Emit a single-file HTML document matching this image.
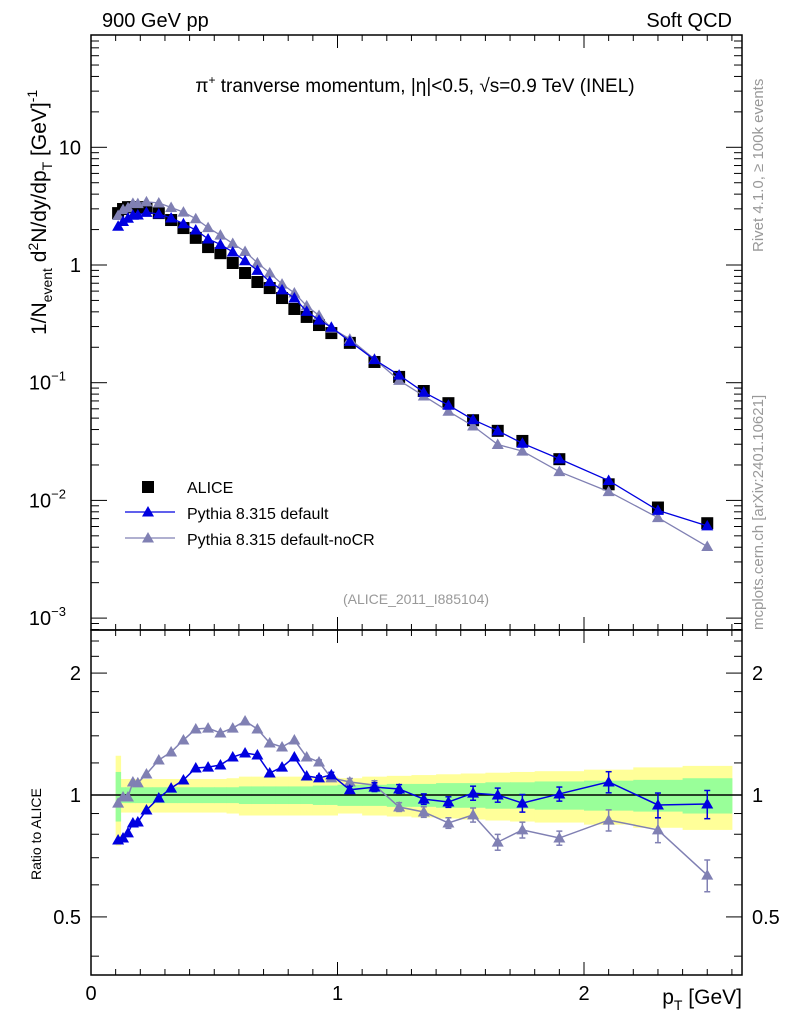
<!DOCTYPE html>
<html><head><meta charset="utf-8"><style>
html,body{margin:0;padding:0;background:#fff;}
svg{display:block;font-family:"Liberation Sans",sans-serif;}
</style></head><body>
<svg id="c" width="786" height="1024" viewBox="0 0 786 1024" xmlns="http://www.w3.org/2000/svg">
<text x="102" y="27" font-size="20">900 GeV pp</text>
<text x="732" y="27" font-size="20" text-anchor="end">Soft QCD</text>
<text x="415" y="92" font-size="19" text-anchor="middle">π<tspan font-size="12" dy="-8">+</tspan><tspan dy="8"> tranverse momentum, |η|&lt;0.5, √s=0.9 TeV (INEL)</tspan></text>
<text transform="translate(46,335) rotate(-90)" font-size="21">1/N<tspan font-size="14" dy="6">event</tspan><tspan dy="-6"> d</tspan><tspan font-size="14" dy="-8">2</tspan><tspan dy="8">N/dy/dp</tspan><tspan font-size="14" dy="6">T</tspan><tspan dy="-6"> [GeV]</tspan><tspan font-size="14" dy="-9">-1</tspan></text>
<text transform="translate(41,880) rotate(-90)" font-size="14">Ratio to ALICE</text>
<text transform="translate(763,252) rotate(-90)" font-size="15" fill="#999">Rivet 4.1.0, ≥ 100k events</text>
<text transform="translate(763,630) rotate(-90)" font-size="15" fill="#999">mcplots.cern.ch [arXiv:2401.10621]</text>
<text x="416" y="604" font-size="14" fill="#999" text-anchor="middle">(ALICE_2011_I885104)</text>
<text x="742" y="1004" font-size="21" text-anchor="end">p<tspan font-size="14" dy="6">T</tspan><tspan dy="-6"> [GeV]</tspan></text>
</svg>
<script>
const pT=[0.11,0.13,0.15,0.17,0.19,0.225,0.275,0.325,0.375,0.425,0.475,0.525,0.575,0.625,0.675,0.725,0.775,0.825,0.875,0.925,0.975,1.05,1.15,1.25,1.35,1.45,1.55,1.65,1.75,1.9,2.1,2.3,2.5];
const binLo=[0.1,0.12,0.14,0.16,0.18,0.2,0.25,0.3,0.35,0.4,0.45,0.5,0.55,0.6,0.65,0.7,0.75,0.8,0.85,0.9,0.95,1.0,1.1,1.2,1.3,1.4,1.5,1.6,1.7,1.8,2.0,2.2,2.4];
const binHi=[0.12,0.14,0.16,0.18,0.2,0.25,0.3,0.35,0.4,0.45,0.5,0.55,0.6,0.65,0.7,0.75,0.8,0.85,0.9,0.95,1.0,1.1,1.2,1.3,1.4,1.5,1.6,1.7,1.8,2.0,2.2,2.4,2.6];
const alice=[2.76,2.99,3.1,3.1,3.1,3.05,2.76,2.41,2.06,1.70,1.42,1.26,1.04,0.855,0.717,0.637,0.524,0.423,0.362,0.309,0.264,0.218,0.150,0.112,0.085,0.067,0.048,0.039,0.032,0.0224,0.0137,0.0087,0.0064];
const ratioDefault=[0.774,0.783,0.806,0.853,0.858,0.918,0.983,1.04,1.089,1.166,1.172,1.186,1.241,1.270,1.255,1.133,1.172,1.241,1.114,1.102,1.121,1.03,1.046,1.035,0.977,0.961,1.011,1.0,0.955,1.006,1.077,0.945,0.95];
const ratioNoCR=[0.955,0.989,0.989,1.077,1.071,1.127,1.220,1.277,1.367,1.455,1.463,1.423,1.463,1.523,1.455,1.344,1.314,1.367,1.241,1.206,1.102,1.077,1.058,0.934,0.908,0.853,0.893,0.765,0.820,0.783,0.867,0.820,0.634];
const errDefault=[0.005,0.005,0.005,0.005,0.005,0.005,0.005,0.005,0.005,0.005,0.005,0.005,0.006,0.006,0.006,0.006,0.008,0.01,0.01,0.012,0.015,0.02,0.025,0.025,0.03,0.03,0.04,0.04,0.05,0.04,0.06,0.07,0.08];
const errNoCR=[0.005,0.005,0.005,0.005,0.005,0.005,0.005,0.005,0.005,0.005,0.005,0.005,0.006,0.006,0.006,0.006,0.008,0.01,0.01,0.012,0.015,0.02,0.025,0.025,0.03,0.03,0.04,0.045,0.045,0.04,0.06,0.07,0.09];
const bandInner=[0.14,0.045,0.045,0.045,0.045,0.045,0.045,0.045,0.045,0.045,0.045,0.045,0.045,0.05,0.05,0.05,0.05,0.05,0.05,0.055,0.055,0.06,0.06,0.065,0.065,0.07,0.07,0.075,0.075,0.08,0.085,0.09,0.1];
const bandOuter=[0.25,0.095,0.095,0.095,0.095,0.095,0.095,0.095,0.095,0.095,0.095,0.095,0.1,0.11,0.11,0.11,0.11,0.11,0.11,0.11,0.11,0.1,0.11,0.115,0.12,0.125,0.13,0.135,0.14,0.145,0.155,0.17,0.18];
const mainTicks=[10,1,0.1,0.01,0.001];
const mainTickLabels=["10","1","10","10","10"];
const mainTickExp=["","","−1","−2","−3"];
const ratioTicks=[2,1,0.5];
const ratioTickLabels=["2","1","0.5"];
const xTicks=[0,1,2];
const xTickLabels=["0","1","2"];

const L=91,R=742,T=35,M=630,B=975;
const X=v=>L+246.5*v;
const Y=v=>265-117.7*Math.log10(v);
const YR=v=>795-405*Math.log10(v);
const svg=document.getElementById('c');
const NS='http://www.w3.org/2000/svg';
function mk(tag,at,parent){const e=document.createElementNS(NS,tag);for(const k in at)e.setAttribute(k,at[k]);(parent||svg).appendChild(e);return e;}

// ratio bands
const bands=mk('g',{});


for(let i=0;i<pT.length;i++){
  const r=mk('rect',{x:X(binLo[i]),width:X(binHi[i])-X(binLo[i])+0.5,y:YR(1+bandOuter[i]),height:YR(1-bandOuter[i])-YR(1+bandOuter[i]),fill:'#ffff99'},bands);
  
  
}
for(let i=0;i<pT.length;i++){
  const r=mk('rect',{x:X(binLo[i]),width:X(binHi[i])-X(binLo[i])+0.5,y:YR(1+bandInner[i]),height:YR(1-bandInner[i])-YR(1+bandInner[i]),fill:'#99ff99'},bands);
  
  
}
const one=mk('line',{x1:L,x2:R,y1:YR(1),y2:YR(1),stroke:'#000','stroke-width':1.5});



// frames
for(const [y1,y2,n] of [[T,M,'main-frame'],[M,B,'ratio-frame']]){
  const f=mk('rect',{x:L,y:y1,width:R-L,height:y2-y1,fill:'none',stroke:'#000','stroke-width':1.5});
  
  
}
// x ticks
const tk=mk('g',{stroke:'#000','stroke-width':1});


for(let k=0;k<=26;k++){
  const v=k/10,x=X(v),len=(k%10===0)?13:6;
  for(const [yb,yt] of [[M,T],[B,M]]){
    mk('line',{x1:x,x2:x,y1:yb,y2:yb-len},tk);
    mk('line',{x1:x,x2:x,y1:yt,y2:yt+len},tk);
  }
}
xTicks.forEach((v,i)=>{const t=mk('text',{x:X(v),y:976+24,'font-size':20,'text-anchor':'middle'});t.textContent=xTickLabels[i];

});
// main y ticks
for(let d=-4;d<=1;d++){for(let m=1;m<=9;m++){const v=m*Math.pow(10,d),y=Y(v);if(y<T||y>M)continue;const len=m===1?16:8;
mk('line',{x1:L,x2:L+len,y1:y,y2:y},tk);mk('line',{x1:R,x2:R-len,y1:y,y2:y},tk);}}
mainTicks.forEach((v,i)=>{const t=mk('text',{x:81,y:Y(v)+7,'font-size':20,'text-anchor':'end'});t.textContent=mainTickLabels[i];
if(mainTickExp[i]){t.setAttribute('x',66);const s=mk('tspan',{'font-size':13,dy:-9},t);s.textContent=mainTickExp[i];}

});
// ratio y ticks
[0.4,0.5,0.6,0.7,0.8,0.9,1,1.2,1.4,1.6,1.8,2,2.2,2.4].forEach(v=>{const y=YR(v);const len=(v===0.5||v===1||v===2)?16:8;
mk('line',{x1:L,x2:L+len,y1:y,y2:y},tk);mk('line',{x1:R,x2:R-len,y1:y,y2:y},tk);});
ratioTicks.forEach((v,i)=>{for(const [x,a] of [[81,'end'],[752,'start']]){const t=mk('text',{x:x,y:YR(v)+7,'font-size':20,'text-anchor':a});t.textContent=ratioTickLabels[i];

}});

function tri(x,y,s,col,g){return mk('polygon',{points:`${x},${y-s} ${x-s},${y+s*0.75} ${x+s},${y+s*0.75}`,fill:col},g);}
// main series
function series(vals,col,name){
  const g=mk('g',{});
  
  
  mk('polyline',{points:vals.map((v,i)=>X(pT[i])+','+Y(v)).join(' '),fill:'none',stroke:col,'stroke-width':1.3},g);
  vals.forEach((v,i)=>{const p=tri(X(pT[i]),Y(v),6,col,g);
  
  });
}
const sq=mk('g',{});


alice.forEach((v,i)=>{const r=mk('rect',{x:X(pT[i])-6,y:Y(v)-6,width:12,height:12,fill:'#000'},sq);

});
series(alice.map((v,i)=>v*ratioNoCR[i]),'#8080b3','pythia-noCR-main');
series(alice.map((v,i)=>v*ratioDefault[i]),'#0000e0','pythia-default-main');
// ratio series
function rseries(vals,errs,col,name){
  const g=mk('g',{});
  
  
  mk('polyline',{points:vals.map((v,i)=>X(pT[i])+','+YR(v)).join(' '),fill:'none',stroke:col,'stroke-width':1.5},g);
  vals.forEach((v,i)=>{const x=X(pT[i]),y1=YR(v*(1+errs[i])),y2=YR(v*(1-errs[i]));
    if(y2-y1>4){mk('line',{x1:x,x2:x,y1:y1,y2:y2,stroke:col,'stroke-width':1.5},g);
    mk('line',{x1:x-3,x2:x+3,y1:y1,y2:y1,stroke:col,'stroke-width':1.5},g);mk('line',{x1:x-3,x2:x+3,y1:y2,y2:y2,stroke:col,'stroke-width':1.5},g);}
    const p=tri(x,YR(v),6,col,g);
    
    });
}
rseries(ratioNoCR,errNoCR,'#8080b3','pythia-noCR-ratio');
rseries(ratioDefault,errDefault,'#0000e0','pythia-default-ratio');
// legend
const lg=mk('g',{});


mk('rect',{x:142,y:481,width:12,height:12,fill:'#000'},lg);
mk('line',{x1:125,x2:175,y1:512,y2:512,stroke:'#0000e0','stroke-width':1.3},lg);tri(148,512,6,'#0000e0',lg);
mk('line',{x1:125,x2:175,y1:538,y2:538,stroke:'#8080b3','stroke-width':1.3},lg);tri(148,538,6,'#8080b3',lg);
[['ALICE',493],['Pythia 8.315 default',519],['Pythia 8.315 default-noCR',545]].forEach(([s,y])=>{const t=mk('text',{x:187,y:y,'font-size':16},lg);t.textContent=s;

});
</script>
</body></html>
